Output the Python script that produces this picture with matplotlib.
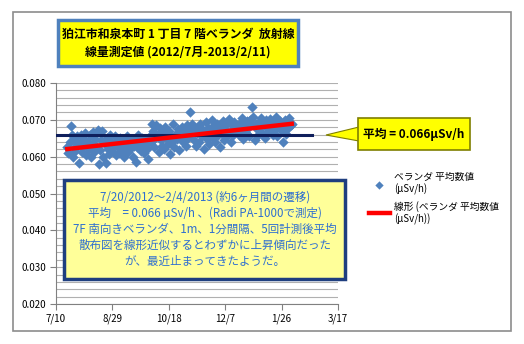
import numpy as np
import pandas as pd
import matplotlib
matplotlib.use("Agg")
from matplotlib import pyplot as plt
from matplotlib.patches import Rectangle, Polygon
import matplotlib.dates as mdates

plt.rcParams['font.family'] = ['Noto Sans CJK JP', 'DejaVu Sans']

#%% data
first_day = "2012-07-20"
last_day = "2013-02-04"
dose = [
    0.0625, 0.0610, 0.0640, 0.0682, 0.0660, 0.0600, 0.0645, 0.0615, 0.0630, 0.0655,
    0.0582, 0.0638, 0.0660, 0.0612, 0.0650, 0.0628, 0.0665, 0.0605, 0.0640, 0.0620,
    0.0660, 0.0600, 0.0635, 0.0668, 0.0612, 0.0648, 0.0625, 0.0672, 0.0580, 0.0618,
    0.0645, 0.0670, 0.0598, 0.0635, 0.0584, 0.0652, 0.0622, 0.0606, 0.0660, 0.0640,
    0.0615, 0.0632, 0.0655, 0.0605, 0.0645, 0.0625, 0.0610, 0.0650, 0.0638, 0.0620,
    0.0598, 0.0642, 0.0628, 0.0655, 0.0612, 0.0635, 0.0620, 0.0648, 0.0600, 0.0630,
    0.0645, 0.0585, 0.0625, 0.0660, 0.0640, 0.0615, 0.0650, 0.0628, 0.0610, 0.0645,
    0.0632, 0.0620, 0.0595, 0.0655, 0.0640, 0.0690, 0.0670, 0.0625, 0.0650, 0.0685,
    0.0660, 0.0612, 0.0678, 0.0645, 0.0630, 0.0665, 0.0620, 0.0680, 0.0648, 0.0635,
    0.0670, 0.0608, 0.0655, 0.0640, 0.0688, 0.0625, 0.0662, 0.0648, 0.0675, 0.0618,
    0.0660, 0.0655, 0.0680, 0.0640, 0.0668, 0.0630, 0.0685, 0.0650, 0.0672, 0.0720,
    0.0660, 0.0690, 0.0645, 0.0675, 0.0628, 0.0665, 0.0680, 0.0640, 0.0688, 0.0655,
    0.0672, 0.0620, 0.0660, 0.0695, 0.0648, 0.0678, 0.0635, 0.0668, 0.0700, 0.0652,
    0.0685, 0.0640, 0.0672, 0.0690, 0.0658, 0.0625, 0.0680, 0.0662, 0.0698, 0.0645,
    0.0675, 0.0688, 0.0655, 0.0702, 0.0668, 0.0640, 0.0685, 0.0660, 0.0695, 0.0672,
    0.0680, 0.0680, 0.0658, 0.0692, 0.0670, 0.0705, 0.0648, 0.0685, 0.0665, 0.0698,
    0.0678, 0.0655, 0.0700, 0.0688, 0.0735, 0.0708, 0.0645, 0.0690, 0.0675, 0.0660,
    0.0695, 0.0680, 0.0705, 0.0665, 0.0688, 0.0650, 0.0700, 0.0678, 0.0692, 0.0670,
    0.0702, 0.0685, 0.0660, 0.0695, 0.0675, 0.0708, 0.0655, 0.0690, 0.0680, 0.0698,
    0.0670, 0.0640, 0.0688, 0.0700, 0.0662, 0.0695, 0.0678, 0.0705, 0.0685, 0.0690,
]
avg_value = 0.066
avg_start = "2012-07-11"
avg_end = "2013-02-22"
x_ticks = ["2012-07-10", "2012-08-29", "2012-10-18", "2012-12-07", "2013-01-26", "2013-03-17"]
x_tick_labels = ["7/10", "8/29", "10/18", "12/7", "1/26", "3/17"]
y_ticks = [0.020, 0.030, 0.040, 0.050, 0.060, 0.070, 0.080]

title = "狛江市和泉本町 1 丁目 7 階ベランダ  放射線\n線量測定値 (2012/7月-2013/2/11)"
note = ("7/20/2012～2/4/2013 (約6ヶ月間の遷移)\n"
        "平均　= 0.066 µSv/h 、(Radi PA-1000で測定)\n"
        "7F 南向きベランダ、1m、1分間隔、5回計測後平均\n"
        "散布図を線形近似するとわずかに上昇傾向だった\n"
        "が、最近止まってきたようだ。")
callout = "平均 = 0.066µSv/h"
legend_labels = ["ベランダ 平均数値\n(µSv/h)", "線形 (ベランダ 平均数値\n(µSv/h))"]

#%%
dates = pd.date_range(first_day, last_day, periods=len(dose))
xnum = mdates.date2num(dates)
slope, icpt = np.polyfit(xnum, dose, 1)

fig = plt.figure(figsize=(5.24, 3.44), dpi=100)
W, H = 524, 344

def fx(px):
    return px / W

def fy(py):
    return 1 - py / H

# outer frame
fig.patches.append(Rectangle((fx(13), fy(331)), fx(498), 319 / H, transform=fig.transFigure,
                             fill=False, ec="#8c8c8c", lw=1.2))

ax = fig.add_axes([fx(56), fy(304), fx(338 - 56), (304 - 83) / H])
ax.set_ylim(0.020, 0.080)
ax.set_xlim(mdates.datestr2num(x_ticks[0]), mdates.datestr2num(x_ticks[-1]))
ax.set_yticks(y_ticks)
ax.set_yticklabels(["%.3f" % v for v in y_ticks], fontsize=7)
ax.set_yticks(np.arange(0.020, 0.0801, 0.002), minor=True)
ax.set_xticks([mdates.datestr2num(d) for d in x_ticks])
ax.set_xticklabels(x_tick_labels, fontsize=7)
ax.grid(axis="y", which="both", color="#b0b0b0", lw=0.8)
ax.tick_params(axis="y", which="minor", length=0)
ax.tick_params(axis="both", which="major", direction="out", length=4, color="#808080", pad=3)
for s in ["top", "right"]:
    ax.spines[s].set_visible(False)
for s in ["left", "bottom"]:
    ax.spines[s].set_color("#808080")

ax.scatter(dates, dose, marker="D", s=28, color="#4f81bd", zorder=3, linewidths=0,
           label=legend_labels[0])
ax.plot([mdates.datestr2num(avg_start), mdates.datestr2num(avg_end)], [avg_value, avg_value],
        color="#0f1f5c", lw=2.2, zorder=4)
ax.plot(xnum[[0, -1]], slope * xnum[[0, -1]] + icpt, color="#ff0000", lw=3.2, zorder=5,
        label=legend_labels[1])

leg = ax.legend(loc="upper left", bbox_to_anchor=(fx(360), fy(163)), bbox_transform=fig.transFigure,
                frameon=False, fontsize=7, handlelength=2.2, handletextpad=0.4,
                labelspacing=0.6, markerscale=0.8)

# title box
fig.patches.append(Rectangle((fx(58), fy(66)), fx(240), 46 / H, transform=fig.transFigure,
                             fc="#ffff00", ec="#4f81bd", lw=2.5, zorder=5))
fig.text(fx(178), fy(43), title, ha="center", va="center", fontsize=8.6, fontweight="bold",
         linespacing=1.45, zorder=6)

# note box
fig.patches.append(Rectangle((fx(64), fy(279)), fx(281), 99 / H, transform=fig.transFigure,
                             fc="#ffff99", ec="#1f3f7f", lw=2.5, zorder=5))
fig.text(fx(205), fy(229), note, ha="center", va="center", fontsize=8.3, color="#2f6fd0",
         linespacing=1.3, zorder=6)

# callout
fig.patches.append(Polygon([(fx(326), fy(135)), (fx(359), fy(127)), (fx(359), fy(141))],
                           closed=True, transform=fig.transFigure, fc="#ffff00", ec="#7f7f00",
                           lw=0.8, zorder=5))
fig.patches.append(Rectangle((fx(358), fy(150)), fx(112), 32 / H, transform=fig.transFigure,
                             fc="#ffff00", ec="#7f7f00", lw=1.2, zorder=6))
fig.text(fx(414), fy(134), callout, ha="center", va="center", fontsize=8.5, fontweight="bold",
         zorder=7)

fig.savefig("out.png", dpi=100)
